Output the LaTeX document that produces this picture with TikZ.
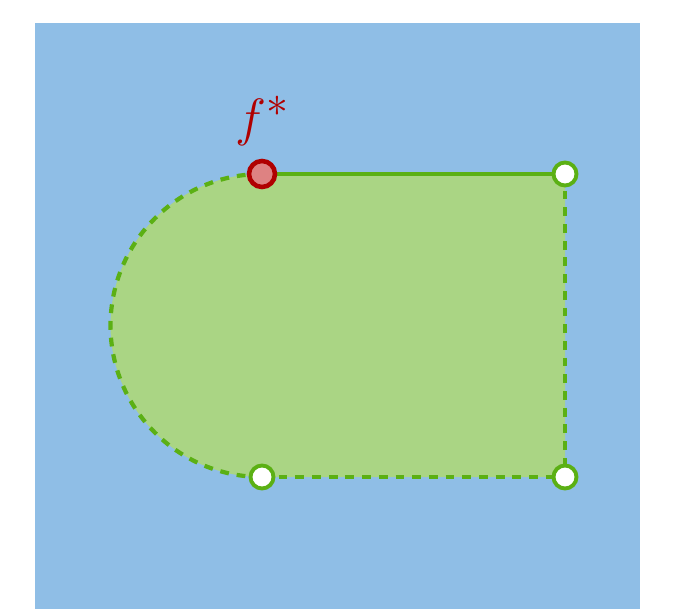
\documentclass[tikz,border=0pt]{standalone}
\usetikzlibrary{positioning}
\definecolor{skyblue}{HTML}{8FBEE6}
\definecolor{leafgreen}{HTML}{AAD584}
\definecolor{edgegreen}{HTML}{5BB014}
\definecolor{darkred}{HTML}{B00000}
\definecolor{softred}{HTML}{DE8282}
\tikzset{
  edgeline/.style={edgegreen, line width=2.4pt},
  dashedge/.style={edgeline, dash pattern=on 5pt off 4.5pt},
  openpt/.style={circle, draw=edgegreen, fill=white, line width=2.2pt, minimum size=0.46cm, inner sep=0pt},
  optpt/.style={circle, draw=darkred, fill=softred, line width=2.6pt, minimum size=0.52cm, inner sep=0pt}
}
\begin{document}
\begin{tikzpicture}

  % Fix the page size
  \useasboundingbox (0,0) rectangle (13.72,12.18);

  % Background region
  \fill[skyblue] (0.7,0) rectangle (12.8,11.72);

  % Define the radius of the half disc
  \def\R{3.03}

  % Corners of the feasible set
  \coordinate (C) at (5.24,5.67);
  \coordinate (TL) at (5.24,8.70);
  \coordinate (TR) at (11.30,8.70);
  \coordinate (BL) at (5.24,2.64);
  \coordinate (BR) at (11.30,2.64);

  % Fill the feasible set
  \fill[leafgreen] (TL) -- (TR) -- (BR) -- (BL) arc (270:90:\R) -- cycle;

  % Boundary: only the top edge is closed
  \draw[dashedge] (BL) arc (270:90:\R);
  \draw[dashedge] (BL) -- (BR);
  \draw[dashedge] (TR) -- (BR);
  \draw[edgeline] (TL) -- (TR);

  % Open corner points
  \node[openpt] (tr) at (TR) {};
  \node[openpt] (bl) at (BL) {};
  \node[openpt] (br) at (BR) {};

  % The optimum with its label
  \node[optpt] (fstar) at (TL) {};
  \node[darkred, font=\Huge, scale=1.2, transform shape, above=0.12cm of fstar] (fstarlabel) {$f^*$};

\end{tikzpicture}
\end{document}
